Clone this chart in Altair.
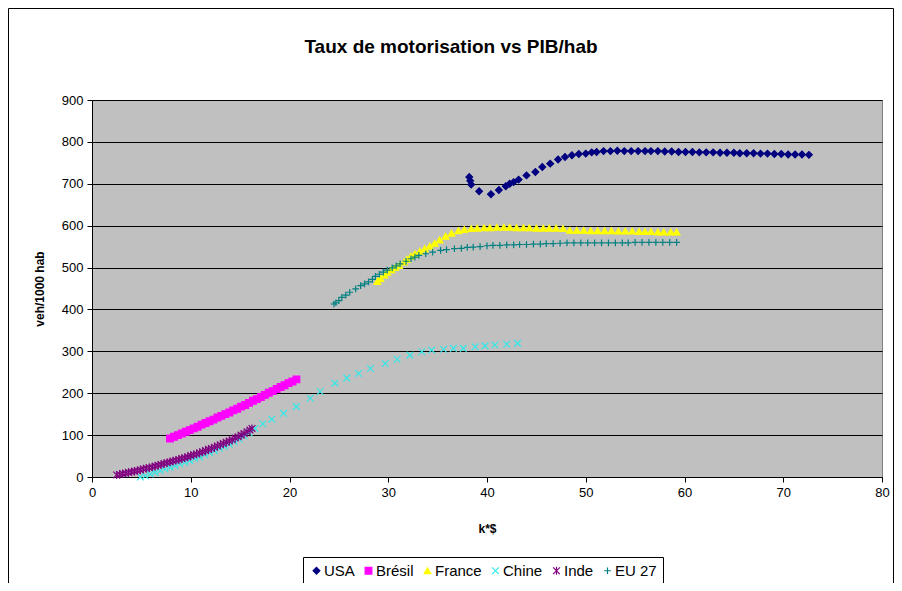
import altair as alt
import pandas as pd

series_names = ["USA", "Brésil", "France", "Chine", "Inde", "EU 27"]
chart_title = "Taux de motorisation vs PIB/hab"

usa_x = [38.2, 38.3, 38.4, 39.2, 40.4, 41.2, 41.9, 42.3, 42.7, 43.2, 44.0, 44.9, 45.6, 46.4, 47.2, 47.9,
         48.6, 49.3, 50.0, 50.6, 51.1, 51.8, 52.5, 53.2, 53.9, 54.6, 55.3, 56.0, 56.6, 57.3, 58.0, 58.7,
         59.4, 60.1, 60.8, 61.5, 62.2, 62.9, 63.6, 64.3, 65.0, 65.6, 66.3, 67.0, 67.7, 68.4, 69.1, 69.8,
         70.5, 71.2, 71.9, 72.6]
usa_y = [716, 707, 698, 682, 675, 685, 694, 700, 704, 710, 720, 728, 740, 748, 758, 764,
         768, 771, 772, 775, 776, 778, 778, 779, 778, 778, 778, 778, 778, 778, 777, 777,
         776, 776, 776, 775, 775, 775, 774, 774, 774, 773, 773, 773, 772, 772, 771, 771,
         770, 770, 770, 769]

bresil_x = [7.9, 8.3, 8.7, 9.1, 9.5, 9.9, 10.3, 10.7, 11.1, 11.5, 11.9, 12.3, 12.7, 13.1, 13.5, 13.9,
            14.3, 14.7, 15.1, 15.5, 15.9, 16.3, 16.7, 17.1, 17.5, 17.9, 18.3, 18.7, 19.1, 19.5, 19.9,
            20.3, 20.7]
bresil_y = [92, 96, 100, 104, 108, 112, 116, 120, 125, 129, 133, 137, 142, 146, 150, 154,
            159, 163, 168, 172, 177, 182, 186, 191, 196, 201, 205, 210, 215, 219, 224,
            228, 233]

france_x = [28.9, 29.2, 29.6, 29.9, 30.3, 30.7, 31.1, 31.6, 31.9, 32.3, 32.7, 33.2, 33.7, 34.2, 34.7,
            35.2, 35.8, 36.4, 37.1, 37.7, 38.4, 39.0, 39.7, 40.3, 41.0, 41.7, 42.3, 43.0, 43.7, 44.3,
            45.0, 45.7, 46.3, 47.0, 47.7, 48.4, 49.1, 49.8, 50.5, 51.2, 51.9, 52.6, 53.3, 54.0, 54.7,
            55.4, 56.0, 56.6, 57.3, 57.9, 58.6, 59.2]
france_y = [467, 474, 482, 489, 495, 500, 505, 513, 520, 527, 533, 539, 545, 551, 558,
            566, 575, 582, 588, 591, 593, 594, 595, 595, 596, 596, 596, 595, 595, 595,
            594, 594, 594, 594, 593, 589, 589, 589, 588, 588, 588, 588, 587, 587, 587,
            586, 586, 586, 585, 585, 585, 585]

chine_x = [4.9, 5.4, 5.9, 6.4, 6.9, 7.4, 7.9, 8.4, 8.9, 9.4, 9.9, 10.4, 10.9, 11.4, 11.9, 12.4,
           12.9, 13.4, 13.9, 14.4, 14.9, 15.4, 15.9, 16.5, 17.3, 18.2, 19.4, 20.7, 22.1, 23.1, 24.6,
           25.8, 27.0, 28.2, 29.7, 30.9, 32.2, 33.4, 34.4, 35.6, 36.6, 37.6, 38.8, 39.8, 40.8,
           42.0, 43.1]
chine_y = [0, 3, 7, 11, 15, 19, 23, 27, 31, 35, 39, 44, 48, 53, 58, 63,
           68, 73, 78, 84, 90, 98, 106, 116, 127, 138, 152, 168, 188, 204, 224,
           236, 247, 259, 271, 281, 291, 299, 303, 305, 307, 307, 311, 313, 315,
           317, 319]

inde_x = [2.5, 2.8, 3.1, 3.4, 3.7, 4.0, 4.3, 4.6, 4.9, 5.2, 5.5, 5.8, 6.1, 6.4, 6.7, 7.0,
          7.3, 7.6, 7.9, 8.2, 8.5, 8.8, 9.1, 9.4, 9.7, 10.0, 10.3, 10.6, 10.9, 11.2, 11.5, 11.8,
          12.1, 12.4, 12.7, 13.0, 13.3, 13.6, 13.9, 14.2, 14.5, 14.8, 15.1, 15.4, 15.7, 16.0, 16.2]
inde_y = [5, 6, 8, 9, 11, 12, 14, 15, 17, 19, 21, 22, 24, 26, 28, 30,
          32, 34, 36, 38, 40, 42, 44, 46, 48, 51, 53, 55, 58, 60, 63, 66,
          68, 71, 74, 77, 80, 83, 86, 89, 93, 96, 100, 104, 108, 112, 116]

eu_x = [24.5, 24.7, 25.0, 25.3, 25.7, 26.1, 26.7, 27.2, 27.6, 28.0, 28.4, 28.7, 29.1, 29.5, 29.9,
        30.4, 30.8, 31.2, 31.8, 32.3, 32.7, 33.1, 33.8, 34.5, 35.3, 35.9, 36.7, 37.4, 38.0, 38.6,
        39.3, 40.0, 40.6, 41.3, 42.0, 42.7, 43.3, 44.0, 44.7, 45.4, 46.0, 46.7, 47.4, 48.1, 48.8,
        49.5, 50.2, 50.9, 51.6, 52.3, 53.0, 53.7, 54.3, 55.0, 55.7, 56.4, 57.1, 57.8, 58.5, 59.2]
eu_y = [413, 416, 421, 429, 434, 441, 449, 457, 461, 466, 472, 479, 484, 489, 494,
        499, 504, 509, 515, 521, 525, 529, 533, 537, 541, 543, 545, 546, 548, 549,
        550, 552, 553, 553, 554, 554, 555, 555, 556, 556, 557, 557, 558, 559, 559,
        559, 559, 559, 559, 559, 559, 559, 559, 560, 560, 560, 560, 560, 560, 560]

x_ticks = [0, 10, 20, 30, 40, 50, 60, 70, 80]
y_ticks = [0, 100, 200, 300, 400, 500, 600, 700, 800, 900]

stroke_colors = ["#000080", "#FF00FF", "#FFFF00", "#33E8E8", "#800080", "#008080"]
fill_colors = ["#000080", "#FF00FF", "#FFFF00", "transparent", "transparent", "transparent"]
shapes = ["diamond", "square", "triangle-up",
          "M-1,-1L1,1M-1,1L1,-1",
          "M-1,-1L1,1M-1,1L1,-1M0,-1.2L0,1.2",
          "M-1,0L1,0M0,-1L0,1"]

rows = []
for name, xs, ys in [("USA", usa_x, usa_y), ("Brésil", bresil_x, bresil_y),
                     ("France", france_x, france_y), ("Chine", chine_x, chine_y),
                     ("Inde", inde_x, inde_y), ("EU 27", eu_x, eu_y)]:
    for xv, yv in zip(xs, ys):
        rows.append({"serie": name, "x": xv, "y": yv})
df = pd.DataFrame(rows)

PLOT_W, PLOT_H = 790, 377
PAD_L, PAD_T, PAD_R, PAD_B = 84, 92, 12, 106

legend_cfg = dict(
    title=None, orient="none", legendX=211, legendY=457, direction="horizontal",
    strokeColor="black", fillColor="white", padding=6,
    labelFont="Liberation Sans", labelFontSize=15, labelColor="black",
    symbolSize=45, symbolStrokeWidth=1.2, columnPadding=6, labelOffset=0,
)

points = alt.Chart(df).mark_point(filled=False, size=45, strokeWidth=1.2, opacity=1).encode(
    x=alt.X("x:Q", scale=alt.Scale(domain=[0, 80], nice=False, zero=False),
            axis=alt.Axis(values=x_ticks, title="k*$", grid=False, labelFlush=False,
                          labelOverlap=False, titleX=395, titleY=51, titleBaseline="middle",
                          titleAlign="center", labelPadding=4)),
    y=alt.Y("y:Q", scale=alt.Scale(domain=[0, 900], nice=False),
            axis=alt.Axis(values=y_ticks, title="veh/1000 hab", grid=True, gridColor="black",
                          gridWidth=1, labelOverlap=False, titleX=-53, titleY=188.5,
                          titleAngle=270, titleAlign="center", titleBaseline="middle",
                          labelPadding=4)),
    stroke=alt.Stroke("serie:N", scale=alt.Scale(domain=series_names, range=stroke_colors),
                      legend=alt.Legend(**legend_cfg)),
    fill=alt.Fill("serie:N", scale=alt.Scale(domain=series_names, range=fill_colors),
                  legend=alt.Legend(**legend_cfg)),
    shape=alt.Shape("serie:N", scale=alt.Scale(domain=series_names, range=shapes),
                    legend=alt.Legend(**legend_cfg)),
)

one_row = pd.DataFrame({"a": [0]})

border = alt.Chart(one_row).mark_rect(
    fill="transparent", stroke="black", strokeWidth=1
).encode(
    x=alt.value(-PAD_L + 0.5), x2=alt.value(PLOT_W + PAD_R - 0.5),
    y=alt.value(-PAD_T + 0.5), y2=alt.value(PLOT_H + PAD_B + 30),
)

title_mark = alt.Chart(one_row).mark_text(
    text=chart_title, font="Liberation Sans",
    fontSize=19, fontWeight="bold", color="black", align="center", baseline="alphabetic",
).encode(x=alt.value(359), y=alt.value(-47))

chart = alt.layer(border, title_mark, points).properties(
    width=PLOT_W, height=PLOT_H,
    autosize=alt.AutoSizeParams(type="none"),
    padding={"left": PAD_L, "top": PAD_T, "right": PAD_R, "bottom": PAD_B},
).configure_view(
    fill="#C0C0C0", stroke="#808080", strokeWidth=1
).configure_axis(
    domainColor="black", tickColor="black", tickSize=5, labelColor="black",
    labelFont="Liberation Sans", labelFontSize=13, titleFont="Liberation Sans",
    titleFontSize=12, titleFontWeight="bold", titleColor="black",
)

chart.save("out.html", embed_options={"renderer": "svg", "actions": False})
